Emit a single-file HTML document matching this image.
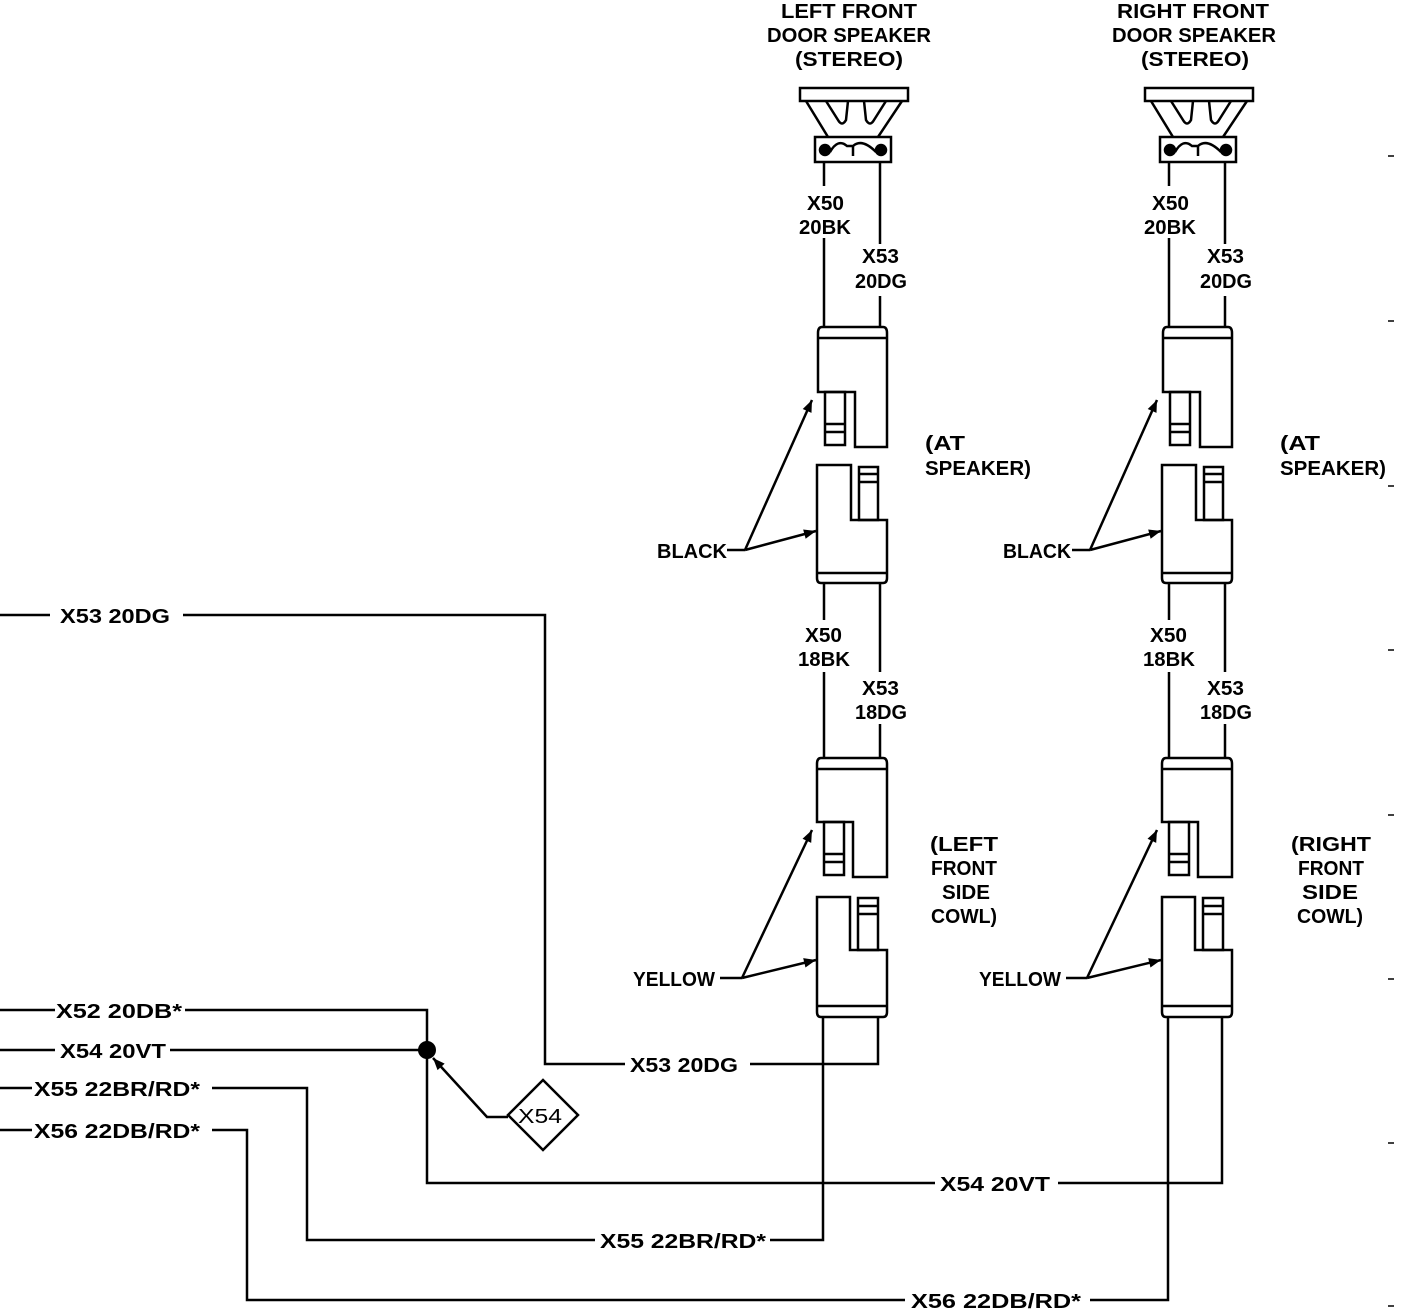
<!DOCTYPE html>
<html><head><meta charset="utf-8"><style>
html,body{margin:0;padding:0;background:#fff;}
svg{display:block}
text{font-family:"Liberation Sans",sans-serif;font-size:20px;font-weight:bold;fill:#000;}
</style></head><body>
<svg width="1408" height="1312" viewBox="0 0 1408 1312" xmlns="http://www.w3.org/2000/svg">
<defs>
<marker id="ah" viewBox="0 0 10 10" refX="10" refY="5" markerWidth="14" markerHeight="12" orient="auto" markerUnits="userSpaceOnUse"><path d="M0,1 L10,5 L0,9 z" fill="#000"/></marker>
<g id="col" fill="none" stroke="#000" stroke-width="2.5">
  <rect x="800" y="88" width="108" height="13" fill="#fff"/>
  <path d="M806,101 L828,137 M902,101 L878,137"/>
  <path d="M826,101 L838,120 Q842,127 846,120 L848,101 M864,101 L866,120 Q870,127 874,120 L886,101"/>
  <rect x="815" y="137" width="76" height="25" fill="#fff"/>
  <circle cx="825" cy="150" r="5" fill="#000"/>
  <circle cx="881" cy="150" r="5" fill="#000"/>
  <path d="M830,152 Q838,138 847,146 L853,146 Q862,138 876,152"/>
  <path d="M853,146 L853,156"/>
  <path d="M824,162 V186 M824,238 V328 M880,162 V244 M880,296 V328"/>
  <path d="M822,327 H883 Q887,327 887,333 V447 H855 V392 H818 V333 Q818,327 822,327 Z" fill="#fff"/>
  <path d="M818,338 H887"/>
  <rect x="825" y="392" width="20" height="53"/>
  <path d="M825,424 H845 M825,432 H845"/>
  <path d="M817,465 H851 V520 H887 V578 Q887,583 883,583 H821 Q817,583 817,578 Z" fill="#fff"/>
  <path d="M817,573 H887"/>
  <rect x="859" y="467" width="19" height="53"/>
  <path d="M859,474 H878 M859,482 H878"/>
  <path d="M824,583 V620 M824,672 V760 M880,583 V672 M880,724 V760"/>
  <path d="M821,758 H883 Q887,758 887,764 V877 H853 V822 H817 V764 Q817,758 821,758 Z" fill="#fff"/>
  <path d="M817,769 H887"/>
  <rect x="824" y="822" width="20" height="53"/>
  <path d="M824,854 H844 M824,862 H844"/>
  <path d="M817,897 H850 V950 H887 V1012 Q887,1017 883,1017 H821 Q817,1017 817,1012 Z" fill="#fff"/>
  <path d="M817,1006 H887"/>
  <rect x="858" y="898" width="20" height="52"/>
  <path d="M858,906 H878 M858,914 H878"/>
</g>
</defs>

<use href="#col"/>
<use href="#col" transform="translate(345,0)"/>

<g fill="none" stroke="#000" stroke-width="2.5">
  <path d="M823,1017 V1240 H770"/>
  <path d="M878,1017 V1064 H750"/>
  <path d="M625,1064 H545 V615 H183"/>
  <path d="M0,615 H50"/>
  <path d="M0,1010 H55 M185,1010 H427 V1183 H935"/>
  <path d="M1058,1183 H1222 V1017"/>
  <path d="M0,1050 H55 M170,1050 H427"/>
  <path d="M0,1088 H32 M212,1088 H307 V1240 H595"/>
  <path d="M0,1130 H32 M212,1130 H247 V1300 H905"/>
  <path d="M1090,1300 H1168 V1017"/>
  <path d="M543,1080 L578,1115 L543,1150 L508,1115 Z"/>
  <path d="M508,1117 H487 L433,1058" marker-end="url(#ah)"/>
  <path d="M745,550 L812,400" marker-end="url(#ah)"/>
  <path d="M745,550 L816,531" marker-end="url(#ah)"/>
  <path d="M727,550 H745"/>
  <path d="M1090,550 L1157,400" marker-end="url(#ah)"/>
  <path d="M1090,550 L1161,531" marker-end="url(#ah)"/>
  <path d="M1072,550 H1090"/>
  <path d="M742,978 L812,830" marker-end="url(#ah)"/>
  <path d="M742,978 L816,960" marker-end="url(#ah)"/>
  <path d="M720,978 H742"/>
  <path d="M1087,978 L1157,830" marker-end="url(#ah)"/>
  <path d="M1087,978 L1161,960" marker-end="url(#ah)"/>
  <path d="M1066,978 H1087"/>
  <path stroke-width="1.5" d="M1388,156 H1394 M1388,321 H1394 M1388,486 H1394 M1388,650 H1394 M1388,815 H1394 M1388,979 H1394 M1388,1143 H1394 M1388,1306 H1394"/>
</g>
<circle cx="427" cy="1050" r="9" fill="#000"/>

<g>
  <text x="781" y="18" textLength="136" lengthAdjust="spacingAndGlyphs">LEFT FRONT</text>
  <text x="767" y="42" textLength="164" lengthAdjust="spacingAndGlyphs">DOOR SPEAKER</text>
  <text x="795" y="66" textLength="108" lengthAdjust="spacingAndGlyphs">(STEREO)</text>
  <text x="1117" y="18" textLength="152" lengthAdjust="spacingAndGlyphs">RIGHT FRONT</text>
  <text x="1112" y="42" textLength="164" lengthAdjust="spacingAndGlyphs">DOOR SPEAKER</text>
  <text x="1141" y="66" textLength="108" lengthAdjust="spacingAndGlyphs">(STEREO)</text>

  <text x="807" y="210" textLength="37" lengthAdjust="spacingAndGlyphs">X50</text>
  <text x="799" y="234" textLength="52" lengthAdjust="spacingAndGlyphs">20BK</text>
  <text x="862" y="263" textLength="37" lengthAdjust="spacingAndGlyphs">X53</text>
  <text x="855" y="288" textLength="52" lengthAdjust="spacingAndGlyphs">20DG</text>
  <text x="1152" y="210" textLength="37" lengthAdjust="spacingAndGlyphs">X50</text>
  <text x="1144" y="234" textLength="52" lengthAdjust="spacingAndGlyphs">20BK</text>
  <text x="1207" y="263" textLength="37" lengthAdjust="spacingAndGlyphs">X53</text>
  <text x="1200" y="288" textLength="52" lengthAdjust="spacingAndGlyphs">20DG</text>

  <text x="805" y="642" textLength="37" lengthAdjust="spacingAndGlyphs">X50</text>
  <text x="798" y="666" textLength="52" lengthAdjust="spacingAndGlyphs">18BK</text>
  <text x="862" y="695" textLength="37" lengthAdjust="spacingAndGlyphs">X53</text>
  <text x="855" y="719" textLength="52" lengthAdjust="spacingAndGlyphs">18DG</text>
  <text x="1150" y="642" textLength="37" lengthAdjust="spacingAndGlyphs">X50</text>
  <text x="1143" y="666" textLength="52" lengthAdjust="spacingAndGlyphs">18BK</text>
  <text x="1207" y="695" textLength="37" lengthAdjust="spacingAndGlyphs">X53</text>
  <text x="1200" y="719" textLength="52" lengthAdjust="spacingAndGlyphs">18DG</text>

  <text x="925" y="450" textLength="40" lengthAdjust="spacingAndGlyphs">(AT</text>
  <text x="925" y="475" textLength="106" lengthAdjust="spacingAndGlyphs">SPEAKER)</text>
  <text x="1280" y="450" textLength="40" lengthAdjust="spacingAndGlyphs">(AT</text>
  <text x="1280" y="475" textLength="106" lengthAdjust="spacingAndGlyphs">SPEAKER)</text>

  <text x="930" y="851" textLength="68" lengthAdjust="spacingAndGlyphs">(LEFT</text>
  <text x="931" y="875" textLength="66" lengthAdjust="spacingAndGlyphs">FRONT</text>
  <text x="942" y="899" textLength="48" lengthAdjust="spacingAndGlyphs">SIDE</text>
  <text x="931" y="923" textLength="66" lengthAdjust="spacingAndGlyphs">COWL)</text>
  <text x="1291" y="851" textLength="80" lengthAdjust="spacingAndGlyphs">(RIGHT</text>
  <text x="1298" y="875" textLength="66" lengthAdjust="spacingAndGlyphs">FRONT</text>
  <text x="1302" y="899" textLength="56" lengthAdjust="spacingAndGlyphs">SIDE</text>
  <text x="1297" y="923" textLength="66" lengthAdjust="spacingAndGlyphs">COWL)</text>

  <text x="657" y="558" textLength="70" lengthAdjust="spacingAndGlyphs">BLACK</text>
  <text x="1003" y="558" textLength="68" lengthAdjust="spacingAndGlyphs">BLACK</text>
  <text x="633" y="986" textLength="82" lengthAdjust="spacingAndGlyphs">YELLOW</text>
  <text x="979" y="986" textLength="82" lengthAdjust="spacingAndGlyphs">YELLOW</text>

  <text x="60" y="623" textLength="110" lengthAdjust="spacingAndGlyphs">X53 20DG</text>
  <text x="630" y="1072" textLength="108" lengthAdjust="spacingAndGlyphs">X53 20DG</text>
  <text x="56" y="1018" textLength="126" lengthAdjust="spacingAndGlyphs">X52 20DB*</text>
  <text x="60" y="1058" textLength="106" lengthAdjust="spacingAndGlyphs">X54 20VT</text>
  <text x="34" y="1096" textLength="166" lengthAdjust="spacingAndGlyphs">X55 22BR/RD*</text>
  <text x="34" y="1138" textLength="166" lengthAdjust="spacingAndGlyphs">X56 22DB/RD*</text>
  <text x="940" y="1191" textLength="110" lengthAdjust="spacingAndGlyphs">X54 20VT</text>
  <text x="600" y="1248" textLength="166" lengthAdjust="spacingAndGlyphs">X55 22BR/RD*</text>
  <text x="911" y="1308" textLength="170" lengthAdjust="spacingAndGlyphs">X56 22DB/RD*</text>
  <text x="518" y="1123" textLength="44" lengthAdjust="spacingAndGlyphs" style="font-weight:normal">X54</text>
</g>
</svg>
</body></html>
